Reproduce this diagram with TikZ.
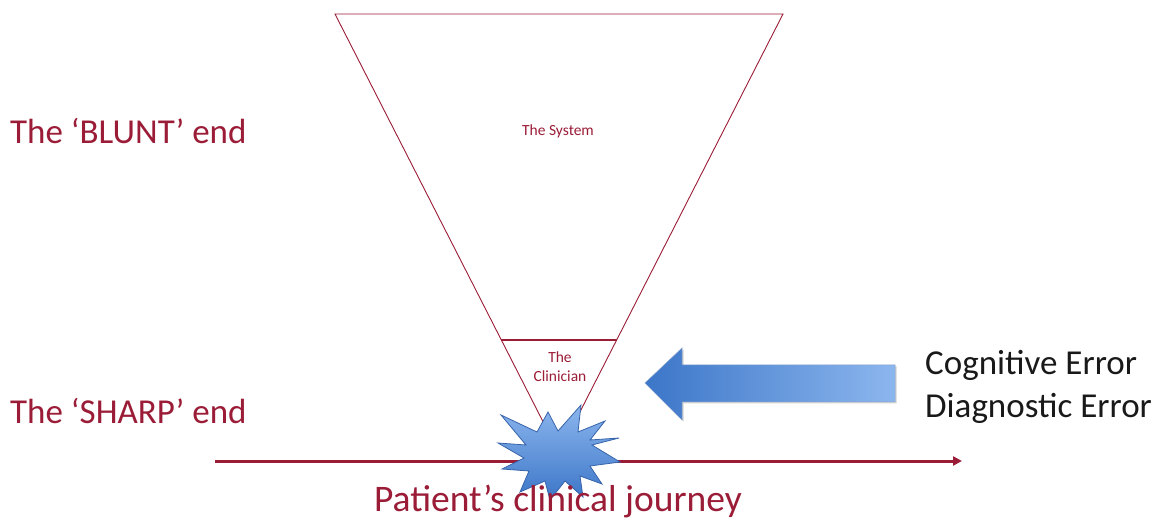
\documentclass[tikz,border=0pt]{standalone}
\usepackage{fontspec}
\setmainfont{Carlito}
\usetikzlibrary{arrows.meta,shadows}
\definecolor{darkred}{RGB}{155,28,55}
\definecolor{blueL}{RGB}{140,182,238}
\definecolor{blueD}{RGB}{60,118,200}
\definecolor{blueE}{RGB}{55,100,170}
\definecolor{txtgray}{RGB}{25,25,25}
\tikzset{
  redlbl/.style={text=darkred,font=\fontsize{35}{40}\selectfont,inner sep=0pt},
  blklbl/.style={text=txtgray,font=\fontsize{35}{40}\selectfont,inner sep=0pt},
  smalllbl/.style={text=darkred,font=\fontsize{15.5}{19}\selectfont,inner sep=0pt,align=center},
  redline/.style={draw=darkred,line width=0.9pt},
}
\begin{document}
\begin{tikzpicture}[x=1pt,y=-1pt]
\useasboundingbox (0,0) rectangle (1168,521);
% triangle
\coordinate (tl) at (335,14);
\coordinate (tr) at (783,14);
\coordinate (ap) at (559,453);
\draw[redline] (tl) -- (tr) -- (ap) -- cycle;
\coordinate (cl) at (501,340);
\coordinate (cr) at (617,340);
\draw[draw=darkred,line width=2.8pt] (cl) -- (cr);
\node[smalllbl] (sys) at (558,131) {The System};
\node[smalllbl] (clin) at (560,367) {The\\Clinician};
% journey line
\coordinate (js) at (215,461);
\coordinate (je) at (962,461);
\draw[draw=darkred,line width=3pt,-{Triangle[length=9pt,width=9pt]}] (js) -- (je);
% starburst
\path[draw=blueE,line width=0.8pt,top color=blueL,bottom color=blueD]
 (619,438) -- (592,445) -- (620,462) -- (590,466) -- (602,484) -- (580,476) -- (583,497) -- (565,481) -- (550,500) -- (545,481) -- (520,492) -- (529,471) -- (502,469) -- (524,458) -- (498,443) -- (526,445) -- (501,415) -- (537,432) -- (548,412) -- (558,431) -- (581,405) -- (578,432) -- (605,421) -- (590,440) -- cycle;
% blue arrow
\path[drop shadow={shadow xshift=1.5pt,shadow yshift=-1.5pt,opacity=0.35},left color=blueD,right color=blueL,draw=blueE!60,line width=0.5pt]
 (645,383) -- (682,348) -- (682,365) -- (895,365) -- (895,402) -- (682,402) -- (682,420) -- cycle;
% labels
\node[redlbl,anchor=west] (blunt) at (10,131) {The ‘BLUNT’ end};
\node[redlbl,anchor=west] (sharp) at (10,411) {The ‘SHARP’ end};
\node[redlbl,font=\fontsize{37.5}{42}\selectfont] (journey) at (558,501) {Patient’s clinical journey};
\node[blklbl,anchor=west] (cog) at (925,365) {Cognitive Error};
\node[blklbl,anchor=west] (diag) at (925,408) {Diagnostic Error};
\end{tikzpicture}
\end{document}
